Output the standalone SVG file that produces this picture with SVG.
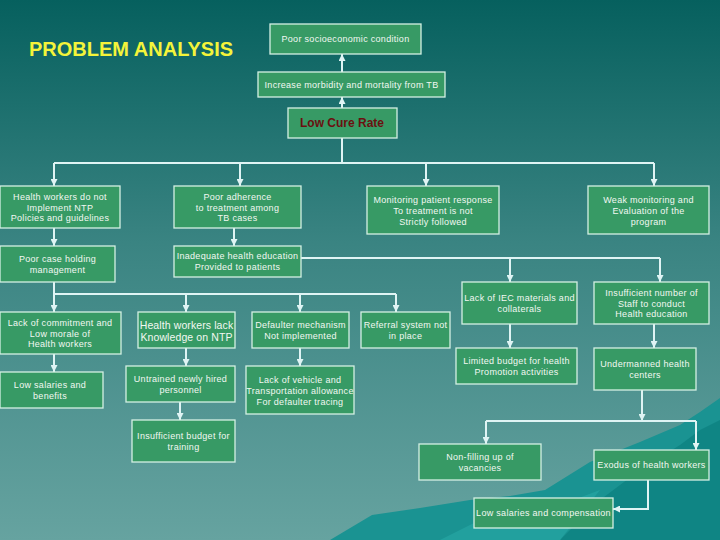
<svg xmlns="http://www.w3.org/2000/svg" width="720" height="540" viewBox="0 0 720 540">
<defs>
<linearGradient id="bg" x1="0" y1="0" x2="0" y2="1">
<stop offset="0" stop-color="#06605e"/>
<stop offset="0.45" stop-color="#3a8482"/>
<stop offset="1" stop-color="#66a3a0"/>
</linearGradient>
<marker id="ah" viewBox="0 0 10 10" refX="10" refY="5" markerWidth="7" markerHeight="7" markerUnits="userSpaceOnUse" orient="auto">
<path d="M0,0 L10,5 L0,10 z" fill="#dff4f4"/>
</marker>
<style>
.box{fill:#379a65;stroke:#d4f0e4;stroke-width:1.3}
.t{font-family:"Liberation Sans",Arial,sans-serif;font-size:9px;fill:#f2f8f2;text-anchor:middle;letter-spacing:0.3px}
.big{font-size:10.5px;letter-spacing:0.1px}
.c{fill:none;stroke:#dff4f4;stroke-width:2}
.ca{fill:none;stroke:#dff4f4;stroke-width:2;marker-end:url(#ah)}
</style>
</defs>
<rect width="720" height="540" fill="url(#bg)"/>
<g id="scenery">
<polygon points="330,540 372,515 420,508 470,500 510,496 545,490 590,462 640,442 680,425 700,412 720,398 720,540" fill="#1a9392"/>
<polygon points="560,540 600,500 640,470 680,445 700,430 720,420 720,540" fill="#0f8584"/>
<polygon points="440,540 480,520 520,512 560,505 600,490 560,540" fill="#22a09e"/>
</g>
<text x="29" y="56" font-family="'Liberation Sans',Arial,sans-serif" font-size="20" font-weight="bold" fill="#f4f43a">PROBLEM ANALYSIS</text>
<g id="connectors">
<path class="ca" d="M342,108 V97"/>
<path class="ca" d="M342,72 V54"/>
<path class="c" d="M342,138 V163 M54,163 H654"/>
<path class="ca" d="M54,163 V186"/>
<path class="ca" d="M240,163 V186"/>
<path class="ca" d="M426,163 V186"/>
<path class="ca" d="M654,163 V186"/>
<path class="ca" d="M54,228 V246"/>
<path class="ca" d="M234,228 V246"/>
<path class="c" d="M301,258 H660"/>
<path class="ca" d="M510,258 V282"/>
<path class="ca" d="M660,258 V282"/>
<path class="c" d="M54,282 V294 H396"/>
<path class="ca" d="M54,294 V312"/>
<path class="ca" d="M186,294 V312"/>
<path class="ca" d="M300,294 V312"/>
<path class="ca" d="M396,294 V312"/>
<path class="ca" d="M54,354 V372"/>
<path class="ca" d="M186,348 V366"/>
<path class="ca" d="M300,348 V366"/>
<path class="ca" d="M180,402 V420"/>
<path class="ca" d="M510,324 V348"/>
<path class="ca" d="M654,324 V348"/>
<path class="ca" d="M642,390 V421"/>
<path class="c" d="M486,421 H696"/>
<path class="ca" d="M486,421 V444"/>
<path class="ca" d="M696,421 V450"/>
<path class="ca" d="M648,480 V509 H613"/>
</g>
<g id="n-socio"><rect class="box" x="270" y="24" width="151" height="30"/><text class="t" x="345.5" y="42">Poor socioeconomic condition</text></g>
<g id="n-morbidity"><rect class="box" x="258" y="72" width="187" height="25"/><text class="t" x="351.5" y="87.5">Increase morbidity and mortality from TB</text></g>
<g id="n-lowcure"><rect class="box" x="288" y="108" width="109" height="30"/><text x="342" y="127" font-family="'Liberation Sans',Arial,sans-serif" font-size="12" font-weight="bold" fill="#6a1010" text-anchor="middle">Low Cure Rate</text></g>
<g id="n-hwnot"><rect class="box" x="0" y="186" width="120" height="42"/><text class="t" x="60" y="200">Health workers do not<tspan x="60" y="210.5">Implement NTP</tspan><tspan x="60" y="221">Policies and guidelines</tspan></text></g>
<g id="n-adherence"><rect class="box" x="174" y="186" width="127" height="42"/><text class="t" x="237.5" y="200">Poor adherence<tspan x="237.5" y="210.5">to treatment among</tspan><tspan x="237.5" y="221">TB cases</tspan></text></g>
<g id="n-monitoring"><rect class="box" x="367" y="186" width="132" height="48"/><text class="t" x="433" y="203">Monitoring patient response<tspan x="433" y="214">To treatment is not</tspan><tspan x="433" y="225">Strictly followed</tspan></text></g>
<g id="n-weak"><rect class="box" x="588" y="186" width="121" height="48"/><text class="t" x="648.5" y="203">Weak monitoring and<tspan x="648.5" y="214">Evaluation of the</tspan><tspan x="648.5" y="225">program</tspan></text></g>
<g id="n-caseholding"><rect class="box" x="0" y="246" width="115" height="36"/><text class="t" x="57.5" y="262">Poor case holding<tspan x="57.5" y="273">management</tspan></text></g>
<g id="n-inadequate"><rect class="box" x="174" y="246" width="127" height="31"/><text class="t" x="237.5" y="259">Inadequate health education<tspan x="237.5" y="270">Provided to patients</tspan></text></g>
<g id="n-iec"><rect class="box" x="462" y="282" width="115" height="42"/><text class="t" x="519.5" y="301">Lack of IEC materials and<tspan x="519.5" y="312">collaterals</tspan></text></g>
<g id="n-insuffstaff"><rect class="box" x="594" y="282" width="115" height="42"/><text class="t" x="651.5" y="296">Insufficient number of<tspan x="651.5" y="306.5">Staff to conduct</tspan><tspan x="651.5" y="317">Health education</tspan></text></g>
<g id="n-commitment"><rect class="box" x="0" y="312" width="121" height="42"/><text class="t" x="60" y="326">Lack of commitment and<tspan x="60" y="336.5">Low morale of</tspan><tspan x="60" y="347">Health workers</tspan></text></g>
<g id="n-knowledge"><rect class="box" x="138" y="312" width="97" height="36"/><text class="t big" x="186.5" y="329">Health workers lack<tspan x="186.5" y="341">Knowledge on NTP</tspan></text></g>
<g id="n-defaulter"><rect class="box" x="252" y="312" width="97" height="36"/><text class="t" x="300.5" y="328">Defaulter mechanism<tspan x="300.5" y="339">Not implemented</tspan></text></g>
<g id="n-referral"><rect class="box" x="361" y="312" width="89" height="36"/><text class="t" x="405.5" y="328">Referral system not<tspan x="405.5" y="339">in place</tspan></text></g>
<g id="n-lowsal1"><rect class="box" x="0" y="372" width="103" height="36"/><text class="t" x="50" y="388">Low salaries and<tspan x="50" y="399">benefits</tspan></text></g>
<g id="n-untrained"><rect class="box" x="126" y="366" width="109" height="36"/><text class="t" x="180.5" y="382">Untrained newly hired<tspan x="180.5" y="393">personnel</tspan></text></g>
<g id="n-vehicle"><rect class="box" x="246" y="366" width="108" height="48"/><text class="t" x="300" y="383">Lack of vehicle and<tspan x="300" y="394">Transportation allowance</tspan><tspan x="300" y="404.5">For defaulter tracing</tspan></text></g>
<g id="n-budgettraining"><rect class="box" x="132" y="420" width="103" height="42"/><text class="t" x="183.5" y="439">Insufficient budget for<tspan x="183.5" y="450">training</tspan></text></g>
<g id="n-limited"><rect class="box" x="456" y="348" width="121" height="36"/><text class="t" x="516.5" y="364">Limited budget for health<tspan x="516.5" y="375">Promotion activities</tspan></text></g>
<g id="n-undermanned"><rect class="box" x="594" y="348" width="102" height="42"/><text class="t" x="645" y="367">Undermanned health<tspan x="645" y="378">centers</tspan></text></g>
<g id="n-nonfilling"><rect class="box" x="419" y="444" width="122" height="36"/><text class="t" x="480" y="460">Non-filling up of<tspan x="480" y="471">vacancies</tspan></text></g>
<g id="n-exodus"><rect class="box" x="594" y="450" width="115" height="30"/><text class="t" x="651.5" y="468">Exodus of health workers</text></g>
<g id="n-lowsal2"><rect class="box" x="474" y="498" width="139" height="30"/><text class="t" x="543.5" y="516">Low salaries and compensation</text></g>
</svg>
